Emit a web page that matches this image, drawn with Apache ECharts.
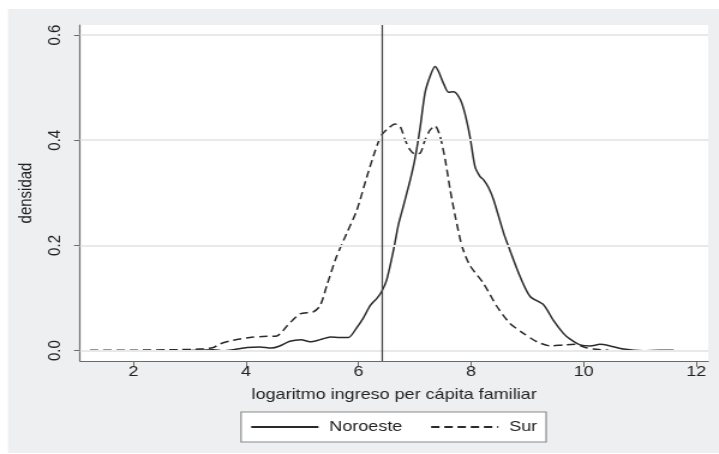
<!DOCTYPE html>
<html>
<head>
<meta charset="utf-8">
<script src="https://cdn.jsdelivr.net/npm/echarts@6/dist/echarts.min.js"></script>
<style>
  html, body { margin: 0; padding: 0; background: #ffffff; overflow: hidden; }
  /* the figure is drawn in a narrower frame and widened horizontally */
  #chart { width: 599px; height: 454px; transform: scaleX(1.2003); transform-origin: 0 0; }
</style>
</head>
<body>
<div id="chart"></div>
<script>
// Kernel density of log per-capita household income, two regions
const noroesteX = [2.06, 2.59, 3.18, 3.42, 3.60, 3.78, 4.02, 4.25, 4.45, 4.60, 4.78, 4.98, 5.14, 5.32, 5.50, 5.67, 5.82, 5.97, 6.09, 6.21, 6.33, 6.41, 6.50, 6.62, 6.71, 6.79, 6.92, 7.00, 7.09, 7.18, 7.27, 7.36, 7.42, 7.51, 7.60, 7.69, 7.81, 7.89, 7.98, 8.07, 8.16, 8.22, 8.31, 8.40, 8.58, 8.69, 8.87, 9.05, 9.29, 9.46, 9.64, 9.76, 9.94, 10.12, 10.29, 10.47, 10.71, 11.06, 11.36, 11.60];
const noroesteY = [0.000, 0.000, 0.001, 0.002, 0.000, 0.002, 0.006, 0.007, 0.005, 0.009, 0.018, 0.021, 0.017, 0.021, 0.026, 0.025, 0.025, 0.044, 0.063, 0.086, 0.100, 0.112, 0.134, 0.190, 0.240, 0.272, 0.325, 0.363, 0.420, 0.489, 0.521, 0.540, 0.531, 0.508, 0.491, 0.492, 0.477, 0.451, 0.407, 0.350, 0.331, 0.325, 0.310, 0.287, 0.223, 0.191, 0.141, 0.103, 0.087, 0.058, 0.033, 0.022, 0.011, 0.009, 0.012, 0.009, 0.003, 0.000, 0.001, 0.001];

const surX = [1.23, 2.00, 2.83, 3.18, 3.42, 3.54, 3.78, 4.07, 4.30, 4.55, 4.73, 4.96, 5.20, 5.32, 5.44, 5.61, 5.79, 5.97, 6.15, 6.30, 6.41, 6.53, 6.65, 6.74, 6.83, 6.92, 7.00, 7.10, 7.18, 7.27, 7.36, 7.45, 7.54, 7.63, 7.72, 7.84, 7.98, 8.22, 8.46, 8.69, 8.93, 9.17, 9.41, 9.64, 9.85, 10.03, 10.17, 10.44];
const surY = [0.001, 0.001, 0.002, 0.003, 0.006, 0.013, 0.020, 0.025, 0.027, 0.028, 0.047, 0.070, 0.074, 0.086, 0.125, 0.179, 0.223, 0.267, 0.331, 0.381, 0.410, 0.423, 0.431, 0.426, 0.400, 0.381, 0.374, 0.376, 0.400, 0.419, 0.427, 0.407, 0.363, 0.305, 0.255, 0.198, 0.162, 0.128, 0.084, 0.052, 0.033, 0.017, 0.009, 0.011, 0.012, 0.006, 0.003, 0.001];

const xTicks = [2, 4, 6, 8, 10, 12];
const yTicks = [0, 0.2, 0.4, 0.6];
const lineaReferencia = 6.41;

const seriesNames = ['Noroeste', 'Sur'];
const xTitle = 'logaritmo ingreso per cápita familiar';
const yTitle = 'densidad';

const zip = (xs, ys) => xs.map((x, i) => [x, ys[i]]);

const FONT = 'Liberation Sans, Arial, sans-serif';
const INK = '#2a2a2a';
const AXIS = '#6a6a6a';

const chart = echarts.init(document.getElementById('chart'), null, { renderer: 'canvas' });

chart.setOption({
  animation: false,
  backgroundColor: '#ffffff',
  graphic: [{
    type: 'rect',
    z: -100,
    shape: { x: 6.7, y: 9, width: 600, height: 444 },
    style: { fill: '#eeeff1' }
  }],
  grid: {
    left: 66.7, top: 25, width: 523.3, height: 336,
    show: true, backgroundColor: '#ffffff', borderWidth: 0
  },
  xAxis: {
    type: 'value',
    min: 1.053, max: 12.213,
    name: xTitle,
    nameLocation: 'middle',
    nameGap: 26,
    nameTextStyle: { fontFamily: FONT, fontSize: 15, color: '#222' },
    axisLine: { show: true, onZero: false, lineStyle: { color: AXIS, width: 1.2 } },
    axisTick: { show: true, customValues: xTicks, length: 6, lineStyle: { color: AXIS, width: 1 } },
    axisLabel: { customValues: xTicks, margin: 3, fontFamily: FONT, fontSize: 15, color: '#222' },
    splitLine: { show: false }
  },
  yAxis: {
    type: 'value',
    min: -0.0196, max: 0.619,
    name: yTitle,
    nameLocation: 'middle',
    nameRotate: 90,
    nameGap: 37,
    nameTextStyle: { fontFamily: FONT, fontSize: 15, color: '#222' },
    axisLine: { show: true, onZero: false, lineStyle: { color: AXIS, width: 1.2 } },
    axisTick: { show: true, customValues: yTicks, length: 5, lineStyle: { color: AXIS, width: 1 } },
    axisLabel: {
      customValues: yTicks, rotate: 90, margin: 13,
      fontFamily: FONT, fontSize: 15, color: '#222',
      formatter: v => v.toFixed(1)
    },
    splitLine: { show: false }
  },
  legend: {
    data: seriesNames,
    left: 200.8, top: 412,
    orient: 'horizontal',
    itemWidth: 56, itemHeight: 14, itemGap: 23,
    padding: [7.5, 7.5],
    backgroundColor: '#ffffff',
    borderColor: '#8a8a8a', borderWidth: 1.2, borderRadius: 0,
    // keys show only the line pattern, no marker
    itemStyle: { opacity: 0 },
    textStyle: { fontFamily: FONT, fontSize: 15, color: '#222', padding: [0, 0, 0, 4] }
  },
  series: [
    {
      // horizontal grid lines and the vertical reference line
      type: 'line',
      name: 'guias',
      data: [],
      z: 1,
      silent: true,
      markLine: {
        silent: true,
        symbol: 'none',
        label: { show: false },
        animation: false,
        data: yTicks.map(v => ({ yAxis: v, lineStyle: { color: '#e9e9eb', width: 2, type: 'solid' } }))
          .concat([{ xAxis: lineaReferencia, lineStyle: { color: '#4a4a4a', width: 1.3, type: 'solid' } }])
      }
    },
    {
      type: 'line',
      name: seriesNames[0],
      data: zip(noroesteX, noroesteY),
      z: 3,
      symbol: 'none',
      smooth: 0.25,
      lineStyle: { color: INK, width: 1.5, type: 'solid' },
      itemStyle: { color: INK }
    },
    {
      type: 'line',
      name: seriesNames[1],
      data: zip(surX, surY),
      z: 3,
      symbol: 'none',
      smooth: 0.25,
      lineStyle: { color: INK, width: 1.5, type: [7, 4] },
      itemStyle: { color: INK }
    }
  ]
});
</script>
</body>
</html>
